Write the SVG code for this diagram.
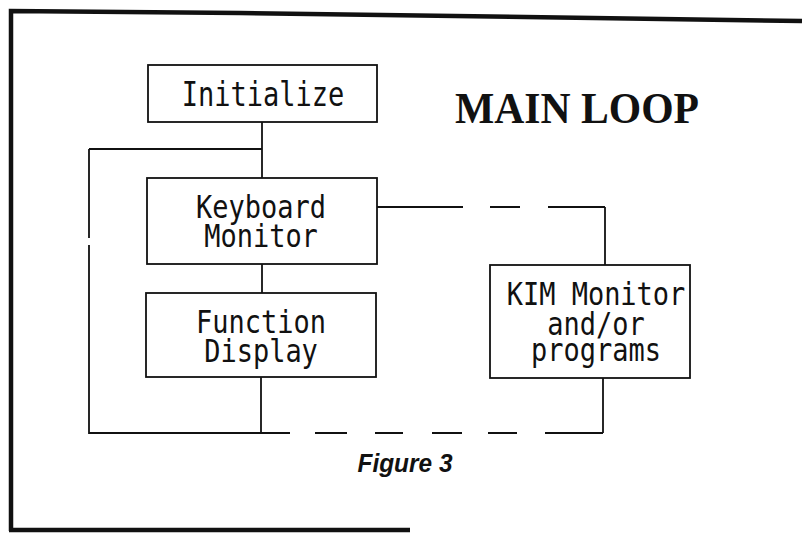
<svg xmlns="http://www.w3.org/2000/svg" width="802" height="533" viewBox="0 0 802 533">
<style>
.box{fill:#fff;stroke:#111;stroke-width:1.8}
.lbl{font-family:"DejaVu Sans Mono","Liberation Mono",monospace;font-size:27px;fill:#111;text-anchor:middle}
.ln{fill:none;stroke:#111;stroke-width:1.8}
.frame{fill:none;stroke:#111;stroke-width:4.5}
</style>
<rect width="802" height="533" fill="#fff"/>
<g id="frame">
<path class="frame" d="M11,531 L11,11 L240,13 L802,21"/>
<path class="frame" d="M9,530 L410,530" stroke-width="3.5"/>
</g>
<text id="title" x="455" y="123" font-family="Liberation Serif,serif" font-size="44" font-weight="bold" textLength="244" lengthAdjust="spacingAndGlyphs" fill="#111">MAIN LOOP</text>
<g id="connectors">
<path class="ln" d="M262,122 L262,178"/>
<path class="ln" d="M89,149 L262,149"/>
<path class="ln" d="M262,264 L262,293"/>
<path class="ln" d="M261,377 L261,433"/>
<path class="ln" d="M89,149 L89,238 M89,245 L89,433 L261,433"/>
<path class="ln" d="M260,433 L290,433 M315,433 L347,433 M375,433 L403,433 M432,433 L462,433 M488,433 L517,433 M545,433 L603,433"/>
<path class="ln" d="M603,433 L603,378"/>
<path class="ln" d="M377,207 L463,207 M490,207 L520,207 M548,207 L605,207"/>
<path class="ln" d="M605,207 L605,265"/>
</g>
<g id="initialize">
<rect class="box" x="148" y="65" width="229" height="57"/>
<text class="lbl" transform="translate(263,106) scale(1,1.25)">Initialize</text>
</g>
<g id="keyboard">
<rect class="box" x="147" y="178" width="230" height="86"/>
<text class="lbl" transform="translate(261,218) scale(1,1.15)">Keyboard</text>
<text class="lbl" transform="translate(261,247) scale(1,1.15)">Monitor</text>
</g>
<g id="function">
<rect class="box" x="146" y="293" width="230" height="84"/>
<text class="lbl" transform="translate(261,333) scale(1,1.15)">Function</text>
<text class="lbl" transform="translate(261,362) scale(1,1.15)">Display</text>
</g>
<g id="kim">
<rect class="box" x="490" y="265" width="200" height="113"/>
<text class="lbl" transform="translate(596,305) scale(1,1.15)">KIM Monitor</text>
<text class="lbl" transform="translate(596,335) scale(1,1.15)">and/or</text>
<text class="lbl" transform="translate(596,361) scale(1,1.15)">programs</text>
</g>
<text id="caption" x="405" y="472" font-family="Liberation Sans,sans-serif" font-size="25" font-weight="bold" font-style="italic" text-anchor="middle" textLength="95" lengthAdjust="spacingAndGlyphs" fill="#111">Figure 3</text>
</svg>
